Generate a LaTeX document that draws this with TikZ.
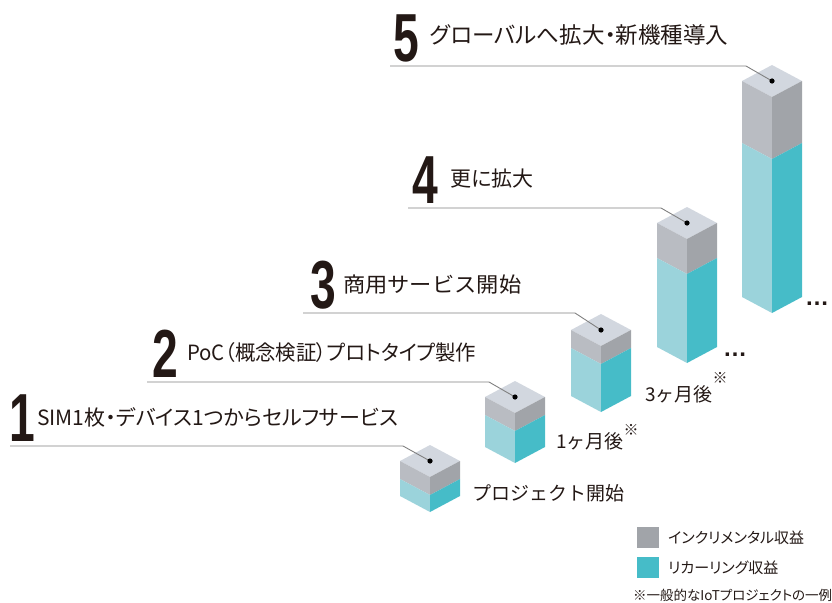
\documentclass[tikz,border=0pt]{standalone}
\usepackage{fontspec}
\usepackage{graphicx}
\setmainfont{Noto Sans CJK JP}[RawFeature=+palt]
\newfontfamily\jpfull{Noto Sans CJK JP}
\newfontfamily\numfont{Liberation Sans}

\definecolor{ink}{HTML}{231815}
\definecolor{leadgray}{HTML}{808080}
\definecolor{topc}{HTML}{D2D7DF}
\definecolor{grayL}{HTML}{B9BCC2}
\definecolor{grayR}{HTML}{A1A4A9}
\definecolor{cyanL}{HTML}{9BD3DB}
\definecolor{cyanR}{HTML}{46BCC8}

% #1 name, #2 centre x, #3 top y, #4 side height, #5 grey part
\newcommand\isobox[5]{%
  \fill[topc] (#2,#3) -- ({#2+30},{#3+16}) -- (#2,{#3+32}) -- ({#2-30},{#3+16}) -- cycle;
  \fill[grayL] ({#2-30},{#3+16}) -- (#2,{#3+32}) -- (#2,{#3+32+#5}) -- ({#2-30},{#3+16+#5}) -- cycle;
  \fill[grayR] (#2,{#3+32}) -- ({#2+30},{#3+16}) -- ({#2+30},{#3+16+#5}) -- (#2,{#3+32+#5}) -- cycle;
  \fill[cyanL] ({#2-30},{#3+16+#5}) -- (#2,{#3+32+#5}) -- (#2,{#3+32+#4}) -- ({#2-30},{#3+16+#4}) -- cycle;
  \fill[cyanR] (#2,{#3+32+#5}) -- ({#2+30},{#3+16+#5}) -- ({#2+30},{#3+16+#4}) -- (#2,{#3+32+#4}) -- cycle;
  \coordinate (#1) at (#2,{#3+16});
}

\begin{document}
\begin{tikzpicture}[x=1pt,y=-1pt,
  num/.style={anchor=base west, inner sep=0, text=ink, font=\numfont\bfseries\fontsize{68}{70}\selectfont},
  lbl/.style={anchor=west, inner sep=0, text=ink, font=\fontsize{21}{24}\selectfont},
  sub/.style={anchor=west, inner sep=0, text=ink, font=\jpfull\fontsize{19}{22}\selectfont},
  note/.style={anchor=center, inner sep=0, text=ink, font=\jpfull\fontsize{15}{17}\selectfont},
  more/.style={anchor=center, inner sep=0, text=ink, font=\numfont\bfseries\fontsize{24}{24}\selectfont},
  legend/.style={anchor=west, inner sep=0, text=ink, font=\fontsize{15}{18}\selectfont},
  leader/.style={leadgray, line width=0.9pt}]
\useasboundingbox (0,0) rectangle (832,602);
\clip (0,0) rectangle (832,602);

% boxes
\isobox{box1}{430}{445}{35}{18}
\isobox{box2}{515}{381}{50}{18}
\isobox{box3}{601}{314}{66}{18}
\isobox{box4}{687}{207}{124}{35}
\isobox{box5}{772}{65}{216}{62}

% step labels
\node[num] (n1) at (9,441) {\scalebox{0.68}[1]{1}};
\node[lbl] (t1) at (37,417) {SIM1枚・デバイス1つからセルフサービス};
\node[num] (n2) at (152,377) {\scalebox{0.68}[1]{2}};
\node[lbl] (t2) at (187,353) {\scalebox{0.97}[1]{PoC（概念検証）プロトタイプ製作}};
\node[num] (n3) at (310,308) {\scalebox{0.68}[1]{3}};
\node[lbl] (t3) at (343,285) {\jpfull\scalebox{1.06}[1]{商用サービス開始}};
\node[num] (n4) at (412,203) {\scalebox{0.68}[1]{4}};
\node[lbl] (t4) at (450,179) {更に拡大};
\node[num] (n5) at (393,61) {\scalebox{0.68}[1]{5}};
\node[lbl, font=\fontsize{22.5}{25}\selectfont] (t5) at (430,35) {グローバルへ拡大・新機種導入};

% leader lines
\coordinate (s1) at (10,446);  \coordinate (b1) at (403,446);
\coordinate (s2) at (147,382); \coordinate (b2) at (489,382);
\coordinate (s3) at (303,313); \coordinate (b3) at (575,313);
\coordinate (s4) at (408,208); \coordinate (b4) at (661,208);
\coordinate (s5) at (390,66);  \coordinate (b5) at (746,66);
\foreach \i in {1,...,5}{
  \draw[leader] (s\i) -- (b\i) -- (box\i);
  \fill[black] (box\i) circle (2.6);
}

% time labels
\node[sub] (p0) at (472,493) {プロジェクト開始};
\node[sub] (p1) at (556,441) {1ヶ月後};
\node[note] (p1n) at (631,430) {※};
\node[sub] (p3) at (645,394) {3ヶ月後};
\node[note] (p3n) at (720,378) {※};
\node[more] (d4) at (735,355) {…};
\node[more] (d5) at (817,304) {…};

% legend
\fill[grayR] (637,527) rectangle (659,548);
\node[legend] (g1) at (668,538) {インクリメンタル収益};
\fill[cyanR] (637,557) rectangle (659,578);
\node[legend] (g2) at (668,568) {リカーリング収益};
\node[anchor=west, inner sep=0, text=ink, font=\fontsize{13.5}{15}\selectfont] (fn) at (633,595) {※一般的なIoTプロジェクトの一例};

\end{tikzpicture}
\end{document}
